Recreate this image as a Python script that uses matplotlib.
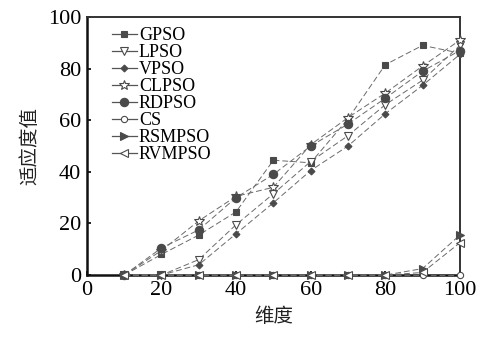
import matplotlib
matplotlib.use("Agg")
import matplotlib.pyplot as plt
from matplotlib.lines import Line2D

plt.rcParams["font.family"] = ["Liberation Serif", "Noto Sans CJK SC"]

dims = [10, 20, 30, 40, 50, 60, 70, 80, 90, 100]
gpso = [0, 8, 15.5, 24.5, 44.5, 43.5, 60.5, 81.5, 89, 86]
lpso = [0, 0, 6, 19.5, 31.5, 44, 54, 66, 75.5, 89]
vpso = [0, 0, 4, 16, 28, 40.5, 50, 62.5, 73.5, 85.5]
clpso = [0, 9.5, 21, 30.5, 34, 50.5, 61, 70.5, 81, 91]
rdpso = [0, 10.5, 17.5, 30, 39, 50, 58.5, 68.5, 79, 87]
cs = [0, 0, 0, 0, 0, 0, 0, 0, 0, 0]
rsmpso = [0, 0, 0, 0, 0, 0, 0, 0, 2.5, 15.5]
rvmpso = [0, 0, 0, 0, 0, 0, 0, 0, 1, 12.5]

names = ["GPSO", "LPSO", "VPSO", "CLPSO", "RDPSO", "CS", "RSMPSO", "RVMPSO"]
series = [gpso, lpso, vpso, clpso, rdpso, cs, rsmpso, rvmpso]
# marker, size, filled
styles = [("s", 4.5, True), ("v", 5.5, False), ("D", 3.5, True), ("*", 7, False),
          ("o", 6, True), ("o", 4.5, False), (">", 5.5, True), ("<", 5.5, False)]

mc = "#4a4a4a"
fig = plt.figure(figsize=(4.8, 3.4), dpi=100)
ax = fig.add_axes([0.181, 0.191, 0.777, 0.759])

handles = []
for name, y, (m, ms, filled) in zip(names, series, styles):
    fc = mc if filled else "white"
    ax.plot(dims, y, color="#6a6a6a", lw=0.7, ls=(0, (6, 3)), marker=m, ms=ms,
            mfc=fc, mec=mc, mew=0.8, clip_on=False, zorder=3)
    handles.append(Line2D([], [], color="#555555", lw=0.9, marker=m, ms=ms,
                          mfc=fc, mec=mc, mew=0.8, label=name))

ax.set_xlim(0, 100)
ax.set_ylim(0, 100)
ax.set_xticks([0, 20, 40, 60, 80, 100])
ax.set_yticks([0, 20, 40, 60, 80, 100])
ax.tick_params(direction="in", length=3, width=1.2, labelsize=16, pad=4)
for side in ["left", "bottom"]:
    ax.spines[side].set_linewidth(1.8)
    ax.spines[side].set_color("#111111")
for side in ["top", "right"]:
    ax.spines[side].set_linewidth(1.4)
    ax.spines[side].set_color("#333333")

ax.set_xlabel("维度", fontsize=14, labelpad=6, color="#222222")
ax.set_ylabel("适应度值", fontsize=14, labelpad=6, color="#222222")

ax.legend(handles=handles, loc="upper left", frameon=False, fontsize=13,
          handlelength=1.4, handletextpad=0.1, labelspacing=0.0,
          borderaxespad=0.15, bbox_to_anchor=(0.04, 1.0))

fig.savefig("out.png", dpi=100)
